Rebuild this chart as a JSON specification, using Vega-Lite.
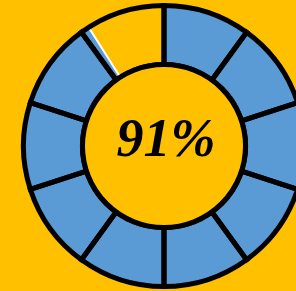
{
  "$schema": "https://vega.github.io/schema/vega-lite/v6.json",
  "width": 328,
  "height": 292,
  "padding": 0,
  "autosize": {"type": "none"},
  "background": "#FFC000",
  "config": {"view": {"stroke": null}},
  "datasets": {
    "fill": [{"start": 0, "end": 327.6}],
    "segments": [
      {"start": 0, "end": 36}, {"start": 36, "end": 72}, {"start": 72, "end": 108},
      {"start": 108, "end": 144}, {"start": 144, "end": 180}, {"start": 180, "end": 216},
      {"start": 216, "end": 252}, {"start": 252, "end": 288}, {"start": 288, "end": 324},
      {"start": 324, "end": 360}
    ],
    "inner": [{"start": 0, "end": 360}],
    "label": [{"text": "91%"}]
  },
  "layer": [
    {
      "data": {"name": "fill"},
      "mark": {"type": "arc", "radius": 141, "radius2": 81, "fill": "#5B9BD5", "stroke": "#FFFFFF", "strokeWidth": 2},
      "encoding": {
        "theta": {"field": "start", "type": "quantitative", "stack": null, "scale": {"domain": [0, 360], "range": [0, 6.283185307179586]}},
        "theta2": {"field": "end"}
      }
    },
    {
      "data": {"name": "segments"},
      "mark": {"type": "arc", "radius": 140.5, "radius2": 81.5, "fill": null, "fillOpacity": 0, "stroke": "#000000", "strokeWidth": 5},
      "encoding": {
        "theta": {"field": "start", "type": "quantitative", "stack": null, "scale": {"domain": [0, 360], "range": [0, 6.283185307179586]}},
        "theta2": {"field": "end"}
      }
    },
    {
      "data": {"name": "inner"},
      "mark": {"type": "arc", "radius": 81.5, "fill": "#FFC000", "stroke": "#000000", "strokeWidth": 5},
      "encoding": {
        "theta": {"field": "start", "type": "quantitative", "stack": null, "scale": {"domain": [0, 360], "range": [0, 6.283185307179586]}},
        "theta2": {"field": "end"}
      }
    },
    {
      "data": {"name": "label"},
      "mark": {"type": "text", "font": "Liberation Serif", "fontStyle": "italic", "fontWeight": "bold", "fontSize": 54, "align": "center", "baseline": "middle", "dy": -6, "dx": 2, "color": "#000000"},
      "encoding": {"text": {"field": "text", "type": "nominal"}}
    }
  ]
}
